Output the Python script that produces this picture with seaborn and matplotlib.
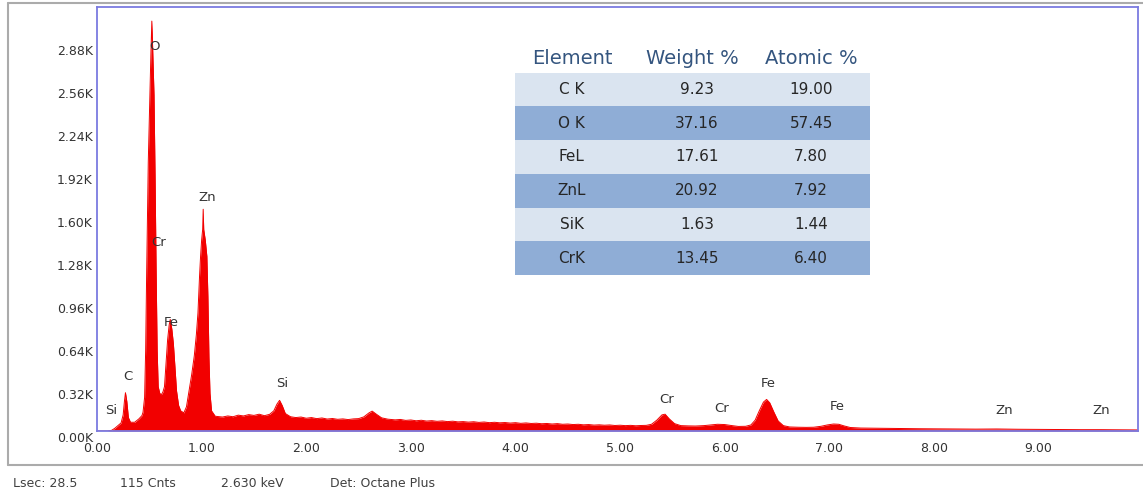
import matplotlib
matplotlib.use("Agg")
import matplotlib.pyplot as plt
import numpy as np
import pandas as pd
import seaborn as sns
from matplotlib.lines import Line2D
from matplotlib.patches import Rectangle
from matplotlib.transforms import ScaledTranslation

# ---- EDS spectrum (energy in keV, counts) ----
energy_kev = [
    0.00, 0.10, 0.14, 0.17, 0.20, 0.23, 0.25, 0.262, 0.272, 0.285, 0.30, 0.32,
    0.36, 0.40, 0.43, 0.44, 0.455, 0.465, 0.475, 0.49, 0.505, 0.515, 0.524,
    0.532, 0.545, 0.555, 0.565, 0.575, 0.585, 0.60, 0.615, 0.63, 0.645, 0.655,
    0.665, 0.675, 0.69, 0.70, 0.715, 0.73, 0.745, 0.76, 0.78, 0.80, 0.83, 0.855,
    0.88, 0.905, 0.93, 0.95, 0.965, 0.98, 0.99, 1.00, 1.01, 1.015, 1.02, 1.035,
    1.05, 1.06, 1.07, 1.08, 1.095, 1.13,
    1.15, 1.20, 1.25, 1.30, 1.35, 1.40, 1.45, 1.50, 1.55, 1.60, 1.65, 1.69,
    1.72, 1.745, 1.77, 1.80, 1.85, 1.90, 1.95, 2.00, 2.05, 2.10, 2.15, 2.20,
    2.25, 2.30, 2.35, 2.40, 2.45, 2.50, 2.55, 2.60, 2.63, 2.67, 2.72, 2.78,
    2.85, 2.90, 2.95, 3.00, 3.05, 3.10, 3.15, 3.20, 3.25, 3.30, 3.35, 3.40,
    3.45, 3.50, 3.55, 3.60, 3.65, 3.70, 3.75, 3.80, 3.85, 3.90, 3.95, 4.00,
    4.05, 4.10, 4.15, 4.20, 4.25, 4.30, 4.35, 4.40, 4.45, 4.50, 4.55, 4.60,
    4.65, 4.70, 4.75, 4.80, 4.85, 4.90, 4.95, 5.00, 5.05, 5.10, 5.15, 5.20,
    5.25, 5.30, 5.35, 5.40, 5.43, 5.47, 5.52, 5.58, 5.65, 5.72, 5.80, 5.87,
    5.93, 6.00, 6.07, 6.13, 6.20, 6.25, 6.29, 6.33, 6.37, 6.40, 6.43, 6.47,
    6.51, 6.56, 6.62, 6.70, 6.78, 6.85, 6.92, 6.98, 7.04, 7.09, 7.14, 7.20,
    7.30, 7.40, 7.55, 7.70, 7.85, 8.00, 8.20, 8.40, 8.60, 8.80, 9.00, 9.20,
    9.40, 9.60, 9.80, 9.95,
]
counts = [
    0, 0, 5, 20, 40, 60, 120, 220, 285, 220, 100, 65,
    65, 90, 115, 140, 250, 600, 1200, 2000, 2500, 2800, 3050,
    2850, 2500, 1900, 1200, 600, 330, 280, 270, 290, 330, 450,
    560, 680, 790, 830, 760, 650, 480, 300, 190, 150, 135, 180,
    300, 420, 560, 720, 880, 1150, 1300, 1420, 1500, 1650, 1500, 1420,
    1300, 1000, 550, 280, 150, 110,
    108, 104, 112, 106, 118, 112, 122, 116, 125, 114, 124, 150,
    200, 228, 190, 130, 106, 100, 104, 95, 100, 92, 97, 89,
    93, 87, 90, 85, 90, 92, 105, 135, 148, 125, 98, 88,
    83, 86, 79, 82, 76, 80, 74, 77, 72, 75, 70, 73,
    68, 70, 66, 69, 64, 67, 62, 65, 61, 63, 59, 62,
    57, 60, 56, 58, 54, 56, 52, 55, 50, 52, 48, 50,
    46, 48, 44, 46, 43, 45, 41, 43, 40, 42, 39, 41,
    42, 50, 80, 120, 125, 90, 55, 40, 38, 37, 40, 45,
    50, 48, 40, 34, 35, 45, 80, 150, 215, 235, 210, 140,
    75, 40, 30, 28, 27, 28, 35, 45, 52, 50, 38, 26,
    22, 21, 20, 18, 17, 16, 15, 14, 15, 13, 12, 11,
    10, 10, 9, 8,
]

# ---- peak identification labels ----
peak_labels = ["O", "Cr", "Zn", "Fe", "C", "Si", "Si", "Cr", "Cr", "Fe", "Fe", "Zn", "Zn"]
label_kev = [0.545, 0.593, 1.052, 0.707, 0.296, 0.134, 1.769, 5.44, 5.975, 6.42, 7.08, 8.67, 9.60]
label_cnt = [2864, 1399, 1741, 804, 409, 149, 350, 238, 171, 357, 179, 149, 149]

# ---- quantification table ----
table_header = ["Element", "Weight %", "Atomic %"]
elements = ["C K", "O K", "FeL", "ZnL", "SiK", "CrK"]
weight_pct = ["9.23", "37.16", "17.61", "20.92", "1.63", "13.45"]
atomic_pct = ["19.00", "57.45", "7.80", "7.92", "1.44", "6.40"]

# ---- axis ticks and footer ----
x_ticks = [0, 1, 2, 3, 4, 5, 6, 7, 8, 9]
y_ticks = [0, 320, 640, 960, 1280, 1600, 1920, 2240, 2560, 2880]
footer = [("Lsec: 28.5", 13), ("115 Cnts", 120), ("2.630 keV", 221), ("Det: Octane Plus", 330)]

RED = "#f20000"
SPINE = "#7b7be0"
TEXT = "#333333"

sns.set_theme(style="white")
plt.rcParams["font.family"] = ["DejaVu Sans"]

W, H = 1143, 498
fig = plt.figure(figsize=(W / 100, H / 100), dpi=100)
fig.patch.set_facecolor("white")

ax = fig.add_axes([97 / W, 67 / H, 1041 / W, 424 / H])
df = pd.DataFrame({"energy": energy_kev, "counts": counts})
sns.lineplot(data=df, x="energy", y="counts", ax=ax, color=RED, lw=0.7)
ax.fill_between(df["energy"], 0, df["counts"], color=RED, lw=0)

ax.set_xlim(0, 9.95)
ax.set_ylim(0, 3155)
ax.set_xlabel("")
ax.set_ylabel("")
ax.set_xticks(x_ticks)
ax.set_xticklabels([f"{v:.2f}" for v in x_ticks])
ax.set_yticks(y_ticks)
ax.set_yticklabels([f"{v / 1000:.2f}K" for v in y_ticks])
ax.tick_params(axis="x", length=0, labelsize=9, colors=TEXT, pad=8)
ax.tick_params(axis="y", length=0, labelsize=9, colors=TEXT, pad=3)
shift = ScaledTranslation(0, -0.06, fig.dpi_scale_trans)
for lbl in ax.get_yticklabels():
    lbl.set_transform(lbl.get_transform() + shift)
for sp in ax.spines.values():
    sp.set_color(SPINE)
    sp.set_linewidth(1.3)
ax.grid(False)

for name, xk, yc in zip(peak_labels, label_kev, label_cnt):
    ax.text(xk, yc, name, ha="center", va="center", fontsize=9.5, color=TEXT)

# outer panel frame
frame_kw = dict(transform=fig.transFigure, color="#ababab", lw=1.5)
fig.add_artist(Line2D([8 / W, 1], [1 - 3 / H, 1 - 3 / H], **frame_kw))
fig.add_artist(Line2D([8 / W, 8 / W], [1 - 3 / H, 1 - 465 / H], **frame_kw))
fig.add_artist(Line2D([8 / W, 1], [1 - 465 / H, 1 - 465 / H], **frame_kw))

# quantification table as an inset
tax = fig.add_axes([515 / W, (H - 275) / H, 355 / W, (275 - 44) / H])
tax.set_xlim(0, 1)
tax.set_ylim(len(elements), -0.85)
tax.axis("off")
col_x = [0.163, 0.499, 0.834]
val_x = [0.160, 0.513, 0.834]
for j, head in enumerate(table_header):
    tax.text(col_x[j], -0.42, head, ha="center", va="center",
             fontsize=14, color="#34557f")
for i, row in enumerate(zip(elements, weight_pct, atomic_pct)):
    face = "#dae4f0" if i % 2 == 0 else "#8fadd6"
    tax.add_patch(Rectangle((0, i), 1, 1, facecolor=face, edgecolor="none"))
    for j, cell in enumerate(row):
        tax.text(val_x[j], i + 0.5, cell, ha="center", va="center",
                 fontsize=11, color="#262626")

for txt, px in footer:
    fig.text(px / W, (H - 483) / H, txt, ha="left", va="center", fontsize=9, color="#404040")

fig.savefig("out.png", dpi=100)
